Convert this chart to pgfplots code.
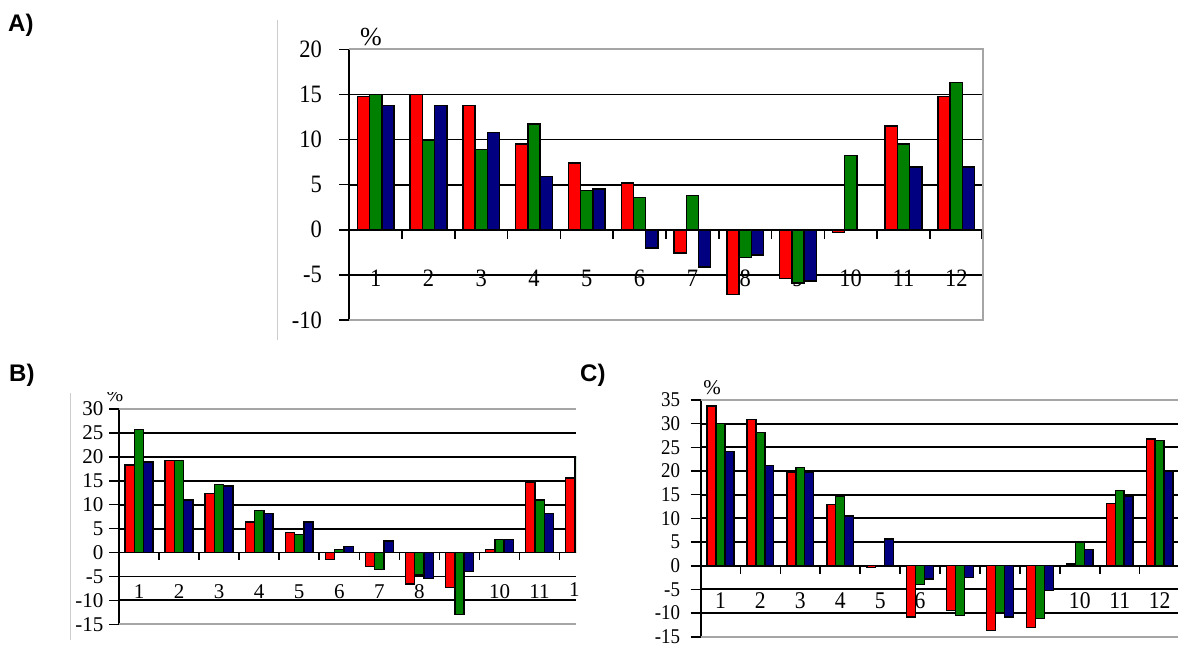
\documentclass[border=0pt]{standalone}
\usepackage{pgfplots}
\pgfplotsset{compat=1.18}
\usepackage{pgfplotstable}
\usepackage{fontspec}
\setmainfont{Liberation Serif}
\newfontfamily\tnr{Liberation Serif}
\newfontfamily\tnrN{Liberation Serif}[FakeStretch=0.9]
\newfontfamily\arial{Liberation Sans}

\definecolor{cr}{RGB}{255,0,0}
\definecolor{cg}{RGB}{0,128,0}
\definecolor{cb}{RGB}{0,0,128}
\definecolor{frm}{RGB}{165,165,165}
\definecolor{deco}{RGB}{205,205,205}

\pgfplotstableread{
c r g b
1 14.75 15.0 13.8
2 15.0 9.9 13.8
3 13.8 8.9 10.8
4 9.5 11.7 5.9
5 7.4 4.35 4.5
6 5.2 3.6 -2.0
7 -2.6 3.8 -4.1
8 -7.2 -3.1 -2.8
9 -5.4 -5.9 -5.7
10 -0.3 8.25 0
11 11.5 9.5 6.95
12 14.75 16.3 6.95
}\dataA

\pgfplotstableread{
c r g b
1 18.3 25.75 18.9
2 19.2 19.2 11.0
3 12.4 14.2 13.95
4 6.4 8.85 8.2
5 4.2 3.8 6.4
6 -1.4 0.6 1.3
7 -2.9 -3.6 2.4
8 -6.6 -4.7 -5.4
9 -7.3 -13.0 -4.0
10 0.6 2.7 2.7
11 14.7 11.0 8.2
12 15.6 20.0 14.0
}\dataB

\pgfplotstableread{
c r g b
1 33.7 30.1 24.1
2 30.9 28.1 21.2
3 19.7 20.8 19.8
4 12.9 14.6 10.5
5 -0.4 0 5.6
6 -10.8 -4.0 -2.8
7 -9.5 -10.5 -2.5
8 -13.7 -10.0 -10.8
9 -13.1 -11.2 -5.2
10 0.35 5.0 3.4
11 13.2 15.9 14.6
12 26.8 26.4 19.9
}\dataC

\pgfplotsset{
  excel/.style={
    scale only axis, anchor=south west,
    axis x line*=bottom, axis y line*=left,
    x axis line style={draw=none},
    y axis line style={black, line width=2pt},
    xtick={1,...,12}, xtick style={draw=none},
    ytick distance=5,
    ymajorgrids, major grid style={black, line width=1.8pt},
    ytick style={black, line width=1.6pt},
    tick align=outside, major tick length=10pt,
    /pgf/number format/assume math mode=true,
    ybar,
    xticklabel style={anchor=center},
    yticklabel style={anchor=east},
  },
}

\begin{document}
\begin{tikzpicture}
\useasboundingbox (0,0) rectangle (1178pt,-646pt);

% decorative separators
\draw[deco, line width=1.3pt] (277.3pt,-20pt) -- (277.3pt,-340pt);
\draw[deco, line width=1.3pt] (70.7pt,-393pt) -- (70.7pt,-640pt);

% ---------------- Panel A ----------------
\begin{axis}[excel,
  at={(349.3pt,-320pt)}, width=633.4pt, height=270.7pt,
  xmin=0.5, xmax=12.5, ymin=-10, ymax=20,
  bar width=12.2pt,
  xticklabel style={font=\tnrN\fontsize{25}{25}\selectfont, yshift=52pt},
  yticklabel style={font=\tnrN\fontsize{25}{25}\selectfont, xshift=-14pt},
]
\addplot[fill=cr, draw=black, line width=1.5pt, bar shift=-12.2pt] table[x=c,y=r]{\dataA};
\addplot[fill=cg, draw=black, line width=1.5pt, bar shift=0pt] table[x=c,y=g]{\dataA};
\addplot[fill=cb, draw=black, line width=1.5pt, bar shift=12.2pt] table[x=c,y=b]{\dataA};
\pgfplotsinvokeforeach{1.5,2.5,3.5,4.5,5.5,6.5,7.5,8.5,9.5,10.5,11.5,12.49}{
  \draw[black, line width=1.6pt] (axis cs:#1,0) -- ++(0pt,-9pt);
}
\end{axis}
\draw[frm, line width=1.8pt] (349.3pt,-49.3pt) -- (982.7pt,-49.3pt) -- (982.7pt,-320pt) -- (349.3pt,-320pt);
\node[font=\tnr\fontsize{26}{26}\selectfont] at (371pt,-37pt) {\%};

% ---------------- Panel B ----------------
\begin{axis}[excel,
  at={(119pt,-624.3pt)}, width=457pt, height=215.3pt,
  xmin=0.5, xmax=11.91, ymin=-15, ymax=30,
  bar width=9.3pt,
  xticklabel style={font=\tnr\fontsize{21}{21}\selectfont, yshift=42.3pt},
  yticklabel style={font=\tnr\fontsize{21}{21}\selectfont, xshift=-2pt},
]
\addplot[fill=cr, draw=black, line width=1.4pt, bar shift=-9.3pt] table[x=c,y=r]{\dataB};
\addplot[fill=cg, draw=black, line width=1.4pt, bar shift=0pt] table[x=c,y=g]{\dataB};
\addplot[fill=cb, draw=black, line width=1.4pt, bar shift=9.3pt] table[x=c,y=b]{\dataB};
\pgfplotsinvokeforeach{1.5,2.5,3.5,4.5,5.5,6.5,7.5,8.5,9.5,10.5,11.5}{
  \draw[black, line width=1.6pt] (axis cs:#1,0) -- ++(0pt,-7.7pt);
}
\end{axis}
\draw[frm, line width=1.8pt] (119pt,-409pt) -- (576pt,-409pt);
\draw[frm, line width=1.8pt] (119pt,-624.3pt) -- (576pt,-624.3pt);
\begin{scope}
\clip (95pt,-392pt) rectangle (140pt,-420pt);
\node[font=\tnr\fontsize{20}{20}\selectfont] at (115pt,-395pt) {\%};
\end{scope}
\begin{scope}
\clip (560pt,-575pt) rectangle (578pt,-605pt);
\node[font=\tnr\fontsize{21}{21}\selectfont] at (579.5pt,-590pt) {12};
\end{scope}

% ---------------- Panel C ----------------
\begin{axis}[excel,
  at={(700.5pt,-636.7pt)}, width=477.5pt, height=236.7pt,
  xmin=0.5, xmax=12.46, ymin=-15, ymax=35,
  bar width=8.9pt,
  xticklabel style={font=\tnrN\fontsize{24}{24}\selectfont, yshift=45.7pt},
  yticklabel style={font=\tnrN\fontsize{21}{21}\selectfont, xshift=-7pt},
]
\addplot[fill=cr, draw=black, line width=1.4pt, bar shift=-8.9pt] table[x=c,y=r]{\dataC};
\addplot[fill=cg, draw=black, line width=1.4pt, bar shift=0pt] table[x=c,y=g]{\dataC};
\addplot[fill=cb, draw=black, line width=1.4pt, bar shift=8.9pt] table[x=c,y=b]{\dataC};
\pgfplotsinvokeforeach{1.5,2.5,3.5,4.5,5.5,6.5,7.5,8.5,9.5,10.5,11.5}{
  \draw[black, line width=1.6pt] (axis cs:#1,0) -- ++(0pt,-8pt);
}
\end{axis}
\draw[frm, line width=1.8pt] (700.5pt,-400pt) -- (1178pt,-400pt);
\draw[frm, line width=1.8pt] (700.5pt,-636.7pt) -- (1178pt,-636.7pt);
\node[font=\tnr\fontsize{21}{21}\selectfont] at (712pt,-388pt) {\%};

% panel letters
\node[font=\arial\bfseries\fontsize{24}{24}\selectfont, anchor=base west, inner sep=0pt] at (8pt,-31pt) {A)};
\node[font=\arial\bfseries\fontsize{24}{24}\selectfont, anchor=base west, inner sep=0pt] at (9pt,-381pt) {B)};
\node[font=\arial\bfseries\fontsize{24}{24}\selectfont, anchor=base west, inner sep=0pt] at (580pt,-381pt) {C)};
\end{tikzpicture}
\end{document}
